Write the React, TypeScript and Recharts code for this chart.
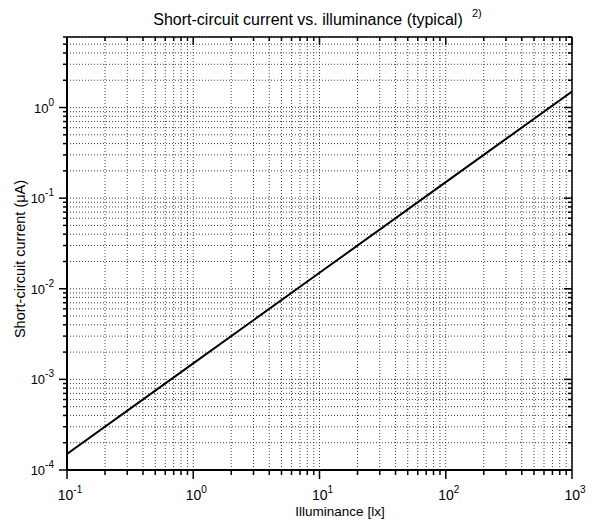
import { CartesianGrid, Line, LineChart, XAxis, YAxis } from 'recharts'

// measured points of the curve (lx -> µA)
const illuminance = [0.1, 1, 10, 100, 1000]
const current = [0.00015, 0.0015, 0.015, 0.15, 1.5]

const xDecades = [0.1, 1, 10, 100, 1000]
const yDecades = [0.0001, 0.001, 0.01, 0.1, 1]
const minorSteps = [2, 3, 4, 5, 6, 7, 8, 9]
const X_MIN = 0.1
const X_MAX = 1000
const Y_MIN = 0.0001
const Y_MAX = 6

const TITLE = 'Short-circuit current vs. illuminance (typical)'
const TITLE_NOTE = '2)'
const X_LABEL = 'Illuminance [lx]'
const Y_LABEL = 'Short-circuit current (\u03bcA)'

const FONT = '"Liberation Sans", Arial, Helvetica, sans-serif'

function buildTicks(decades: number[], max: number) {
  const out: number[] = []
  decades.forEach((d) => {
    out.push(d)
    minorSteps.forEach((m) => {
      const v = d * m
      if (v <= max * 1.000001) out.push(v)
    })
  })
  return out
}

const xTicks = buildTicks(xDecades, X_MAX)
const yTicks = buildTicks(yDecades, Y_MAX)

const data = illuminance.map((e, i) => ({ illuminance: e, current: current[i] }))

function isMajor(v: number) {
  const e = Math.log10(v)
  return Math.abs(e - Math.round(e)) < 1e-6
}

function expOf(v: number) {
  return String(Math.round(Math.log10(v)))
}

function BottomTick(props: any) {
  const { x, y, payload } = props
  const v = payload.value
  const major = isMajor(v)
  return (
    <g>
      <line x1={x} x2={x} y1={y} y2={y + (major ? 9 : 5)} stroke="#000" strokeWidth={1.5} />
      {major && (
        <text x={x + 3} y={y + 30} textAnchor="middle" fontFamily={FONT} fontSize={14} fill="#000">
          10
          <tspan dy={-7} fontSize={10}>
            {expOf(v)}
          </tspan>
        </text>
      )}
    </g>
  )
}

function LeftTick(props: any) {
  const { x, y, payload } = props
  const v = payload.value
  const major = isMajor(v)
  return (
    <g>
      <line x1={x - (major ? 8 : 4)} x2={x} y1={y} y2={y} stroke="#000" strokeWidth={1.5} />
      {major && (
        <text x={x - 13} y={y + 5} textAnchor="end" fontFamily={FONT} fontSize={13} fill="#000">
          10
          <tspan dy={-7} fontSize={10}>
            {expOf(v)}
          </tspan>
        </text>
      )}
    </g>
  )
}

// top and right frame: ticks point into the plot
function TopTick(props: any) {
  const { x, y, payload } = props
  const major = isMajor(payload.value)
  return <line x1={x} x2={x} y1={y} y2={y + (major ? 8 : 4)} stroke="#000" strokeWidth={1.5} />
}

function RightTick(props: any) {
  const { x, y, payload } = props
  const major = isMajor(payload.value)
  return <line x1={x - (major ? 8 : 4)} x2={x} y1={y} y2={y} stroke="#000" strokeWidth={1.5} />
}

export default function App() {
  return (
    <div style={{ position: 'relative', width: 580, height: 514 }}>
      <LineChart
        width={580}
        height={514}
        data={data}
        margin={{ top: 28, right: 15, bottom: 0, left: 0 }}
      >
        <CartesianGrid stroke="#444" strokeDasharray="1 2" strokeWidth={1} />
        <XAxis
          dataKey="illuminance"
          type="number"
          scale="log"
          domain={[X_MIN, X_MAX]}
          allowDataOverflow
          ticks={xTicks}
          interval={0}
          height={52}
          tickSize={0}
          tickMargin={0}
          tickLine={false}
          tick={<BottomTick />}
          axisLine={{ stroke: '#000', strokeWidth: 2 }}
          label={{
            content: () => (
              <text x={332} y={508} textAnchor="middle" fontFamily={FONT} fontSize={13.5} fill="#000">
                {X_LABEL}
              </text>
            ),
          }}
        />
        <XAxis
          xAxisId="top"
          orientation="top"
          dataKey="illuminance"
          type="number"
          scale="log"
          domain={[X_MIN, X_MAX]}
          allowDataOverflow
          ticks={xTicks}
          interval={0}
          height={1}
          tickSize={0}
          tickMargin={0}
          tickLine={false}
          tick={<TopTick />}
          axisLine={{ stroke: '#000', strokeWidth: 1.5 }}
        />
        <YAxis
          type="number"
          scale="log"
          domain={[Y_MIN, Y_MAX]}
          allowDataOverflow
          ticks={yTicks}
          interval={0}
          width={59}
          tickSize={0}
          tickMargin={0}
          tickLine={false}
          tick={<LeftTick />}
          axisLine={{ stroke: '#000', strokeWidth: 2 }}
          label={{
            content: () => (
              <text
                x={17}
                y={251}
                transform="rotate(-90 17 251)"
                textAnchor="middle"
                fontFamily={FONT}
                fontSize={14.5}
                fill="#000"
              >
                {Y_LABEL}
              </text>
            ),
          }}
        />
        <YAxis
          yAxisId="right"
          orientation="right"
          type="number"
          scale="log"
          domain={[Y_MIN, Y_MAX]}
          allowDataOverflow
          ticks={yTicks}
          interval={0}
          width={1}
          tickSize={0}
          tickMargin={0}
          tickLine={false}
          tick={<RightTick />}
          axisLine={{ stroke: '#000', strokeWidth: 1.5 }}
        />
        <Line
          type="linear"
          dataKey="current"
          stroke="#000"
          strokeWidth={2}
          dot={false}
          activeDot={false}
          isAnimationActive={false}
        />
      </LineChart>
      <svg
        width={580}
        height={40}
        style={{ position: 'absolute', left: 0, top: 0, pointerEvents: 'none' }}
      >
        <text x={300} y={17} textAnchor="middle" fontFamily={FONT} fontSize={16} fill="#000">
          {TITLE}
        </text>
        <text x={464} y={9} fontFamily={FONT} fontSize={11} fill="#000">
          {TITLE_NOTE}
        </text>
      </svg>
    </div>
  )
}
